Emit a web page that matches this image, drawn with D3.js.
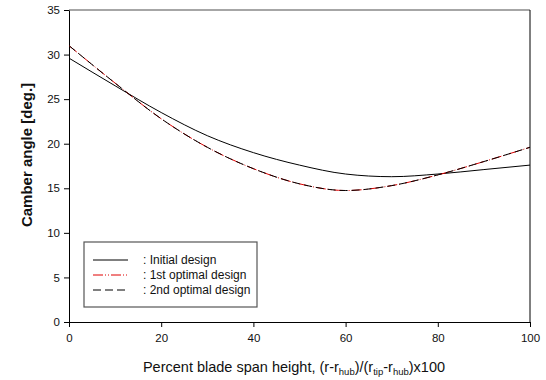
<!DOCTYPE html>
<html>
<head>
<meta charset="utf-8">
<script src="https://cdn.jsdelivr.net/npm/d3@7"></script>
<style>
  body { margin: 0; background: #fff; }
  svg { font-family: "Liberation Sans", Arial, sans-serif; }
</style>
</head>
<body>
<div id="chart"></div>
<script>
// span positions (%) and camber angles (deg)
const span = [0, 10, 20, 30, 40, 50, 60, 70, 80, 90, 100];
const initialDesign = [29.6, 26.5, 23.5, 20.9, 19.0, 17.6, 16.6, 16.3, 16.6, 17.1, 17.6];
const firstOptimal = [31.0, 26.8, 22.8, 19.6, 17.2, 15.5, 14.75, 15.3, 16.5, 18.0, 19.6];
const secondOptimal = [31.0, 26.8, 22.8, 19.6, 17.2, 15.5, 14.75, 15.3, 16.5, 18.0, 19.6];
const xTicks = [0, 20, 40, 60, 80, 100];
const yTicks = [0, 5, 10, 15, 20, 25, 30, 35];
const legendLabels = [': Initial design', ': 1st optimal design', ': 2nd optimal design'];

const width = 546, height = 380;
const margin = { top: 10, right: 16, bottom: 58, left: 69 };
const w = width - margin.left - margin.right;
const h = height - margin.top - margin.bottom;

const svg = d3.select('#chart').append('svg')
  .attr('width', width)
  .attr('height', height);

const g = svg.append('g')
  .attr('transform', 'translate(' + margin.left + ',' + margin.top + ')');

const x = d3.scaleLinear().domain([0, 100]).range([0, w]);
const y = d3.scaleLinear().domain([0, 35]).range([h, 0]);

// frame: top (grey) and right
g.append('line').attr('x1', 0).attr('x2', w).attr('y1', 0).attr('y2', 0)
  .attr('stroke', '#888').attr('stroke-width', 1.5);
g.append('line').attr('x1', w).attr('x2', w).attr('y1', 0).attr('y2', h)
  .attr('stroke', '#000');

// axes
const xAxis = g.append('g')
  .attr('transform', 'translate(0,' + h + ')')
  .call(d3.axisBottom(x).tickValues(xTicks).tickSize(5).tickSizeOuter(0).tickPadding(7));
const yAxis = g.append('g')
  .call(d3.axisLeft(y).tickValues(yTicks).tickSize(5).tickSizeOuter(0).tickPadding(4));
[xAxis, yAxis].forEach(a => {
  a.selectAll('text').attr('font-size', 11.5).attr('fill', '#111')
    .attr('font-family', '"Liberation Sans", Arial, sans-serif');
  a.select('.domain').attr('stroke', '#000');
});

// curves
const line = vals => d3.line()
  .x((d, i) => x(span[i]))
  .y(d => y(d))
  .curve(d3.curveMonotoneX)(vals);

g.append('path').attr('d', line(initialDesign))
  .attr('fill', 'none').attr('stroke', '#000').attr('stroke-width', 1);
g.append('path').attr('d', line(firstOptimal))
  .attr('fill', 'none').attr('stroke', '#e00000').attr('stroke-width', 1)
  .attr('stroke-dasharray', '10,2,1,2,1,2');
g.append('path').attr('d', line(secondOptimal))
  .attr('fill', 'none').attr('stroke', '#000').attr('stroke-width', 1)
  .attr('stroke-dasharray', '8,4');

// legend
const legend = svg.append('g').attr('transform', 'translate(84,242)');
legend.append('rect').attr('width', 173).attr('height', 65)
  .attr('fill', '#fff').attr('stroke', '#555').attr('stroke-width', 1.2);
const styles = [
  { stroke: '#000', dash: null },
  { stroke: '#e00000', dash: '10,2,1,2,1,2' },
  { stroke: '#000', dash: '8,4' }
];
legendLabels.forEach((lab, i) => {
  const yy = 18 + i * 15;
  legend.append('line').attr('x1', 9).attr('x2', 44).attr('y1', yy).attr('y2', yy)
    .attr('stroke', styles[i].stroke).attr('stroke-width', 1)
    .attr('stroke-dasharray', styles[i].dash);
  legend.append('text').attr('x', 59).attr('y', yy + 4)
    .attr('font-size', 12).attr('fill', '#111').text(lab);
});

// axis titles
const xt = svg.append('text')
  .attr('x', 294).attr('y', 372)
  .attr('text-anchor', 'middle').attr('font-size', 14.5).attr('fill', '#111');
xt.append('tspan').text('Percent blade span height, (r-r');
xt.append('tspan').attr('font-size', 9.5).attr('dy', 3).text('hub');
xt.append('tspan').attr('dy', -3).text(')/(r');
xt.append('tspan').attr('font-size', 9.5).attr('dy', 3).text('tip');
xt.append('tspan').attr('dy', -3).text('-r');
xt.append('tspan').attr('font-size', 9.5).attr('dy', 3).text('hub');
xt.append('tspan').attr('dy', -3).text(')x100');

svg.append('text')
  .attr('transform', 'translate(32,155) rotate(-90)')
  .attr('text-anchor', 'middle').attr('font-size', 15).attr('font-weight', 'bold')
  .attr('fill', '#111').text('Camber angle [deg.]');
</script>
</body>
</html>
